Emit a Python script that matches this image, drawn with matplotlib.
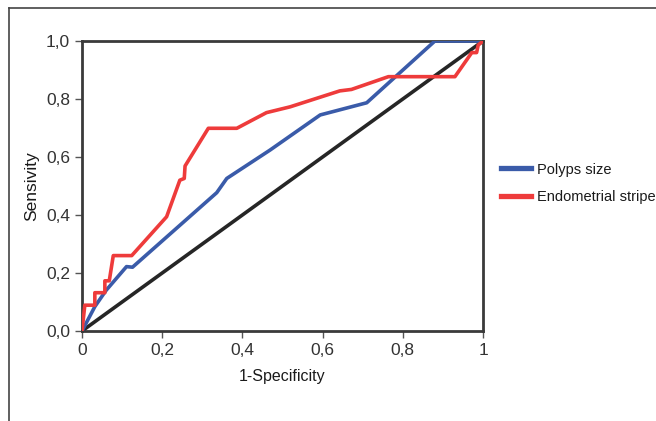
import matplotlib
matplotlib.use('Agg')
import matplotlib.pyplot as plt
from matplotlib.lines import Line2D

plt.rcParams['font.family'] = ['Liberation Sans', 'DejaVu Sans']

# ROC curves
polyps_x = [0.0, 0.032, 0.06, 0.111, 0.126, 0.336, 0.361, 0.469, 0.594, 0.71, 0.88, 1.0]
polyps_y = [0.0, 0.084, 0.14, 0.222, 0.22, 0.477, 0.526, 0.624, 0.745, 0.787, 1.0, 1.0]

stripe_x = [0.0, 0.007, 0.032, 0.032, 0.057, 0.057, 0.068, 0.078, 0.124, 0.211, 0.244,
            0.255, 0.257, 0.315, 0.386, 0.46, 0.519, 0.643, 0.672, 0.764, 0.93,
            0.972, 0.984, 0.988, 1.0]
stripe_y = [0.0, 0.089, 0.089, 0.132, 0.132, 0.173, 0.173, 0.26, 0.26, 0.394, 0.52,
            0.526, 0.569, 0.699, 0.699, 0.753, 0.773, 0.828, 0.833, 0.877, 0.877,
            0.96, 0.96, 0.986, 1.0]

ref_x = [0, 1]
ref_y = [0, 1]

xticks = [0, 0.2, 0.4, 0.6, 0.8, 1.0]
xtick_labels = ['0', '0,2', '0,4', '0,6', '0,8', '1']
yticks = [0, 0.2, 0.4, 0.6, 0.8, 1.0]
ytick_labels = ['0,0', '0,2', '0,4', '0,6', '0,8', '1,0']

fig = plt.figure(figsize=(6.56, 4.21), dpi=100)
ax = fig.add_axes([0.125, 0.2138, 0.6113, 0.6888])

ax.plot(ref_x, ref_y, color='#262626', lw=2.6, zorder=2)
ax.plot(polyps_x, polyps_y, color='#3a5ba9', lw=2.6, label='Polyps size', zorder=3)
ax.plot(stripe_x, stripe_y, color='#ee3b3b', lw=2.6, label='Endometrial stripe', zorder=4)

ax.set_xlim(0, 1)
ax.set_ylim(0, 1)
ax.set_xticks(xticks)
ax.set_xticklabels(xtick_labels)
ax.set_yticks(yticks)
ax.set_yticklabels(ytick_labels)
ax.tick_params(direction='out', length=5, width=1, color='#555555',
               labelsize=12.5, labelcolor='#333333')
for s in ax.spines.values():
    s.set_linewidth(2)
    s.set_color('#3a3a3a')

ax.set_xlabel('1-Specificity', fontsize=11.5, color='#1a1a1a', labelpad=8)
ax.set_ylabel('Sensivity', fontsize=12.5, color='#1a1a1a', labelpad=5)

leg = ax.legend(loc='center left', bbox_to_anchor=(1.0, 0.51), frameon=False,
                fontsize=10.5, handlelength=2.1, handletextpad=0.4, labelspacing=0.9,
                borderaxespad=0.8, labelcolor='#1a1a1a')
for h in leg.get_lines():
    h.set_linewidth(3.8)

# outer frame around the figure
fig.add_artist(Line2D([0.013, 0.013], [0, 0.981], transform=fig.transFigure, color='#444444', lw=1.2))
fig.add_artist(Line2D([0.013, 1.0], [0.981, 0.981], transform=fig.transFigure, color='#444444', lw=1.2))

fig.savefig('out.png', dpi=100)
